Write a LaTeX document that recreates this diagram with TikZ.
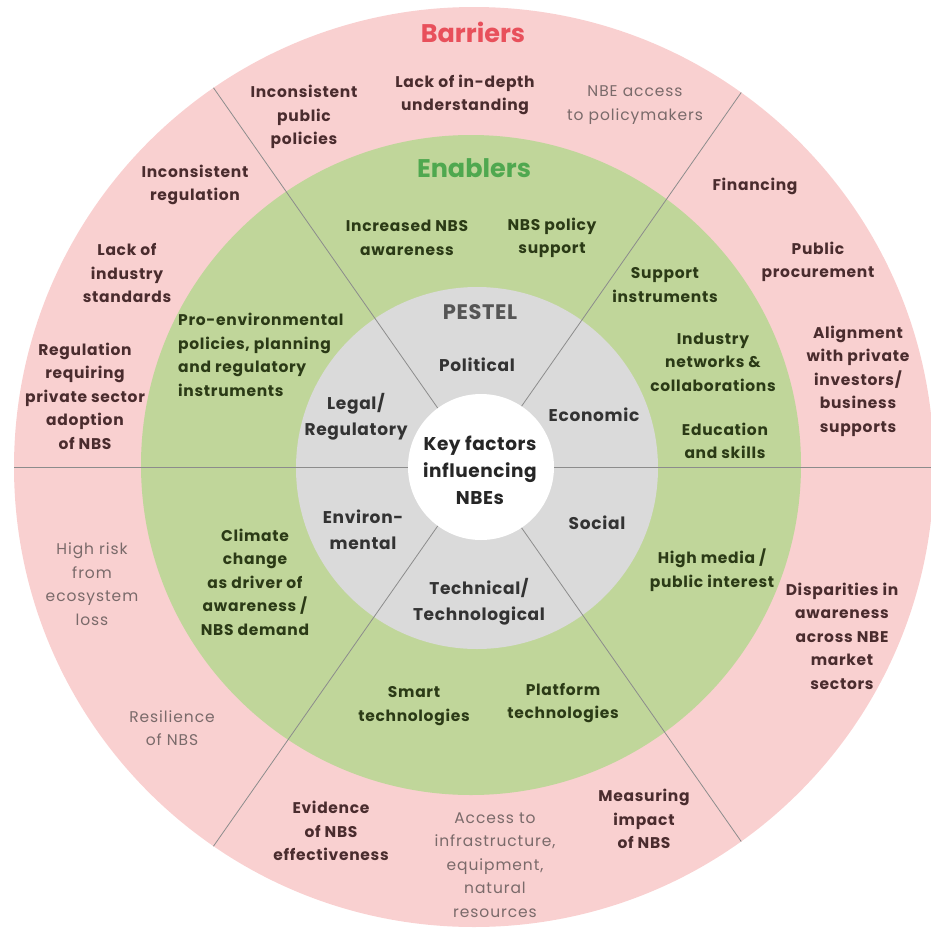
\documentclass[tikz,border=0pt]{standalone}
\usepackage{fontspec}
\setmainfont{Poppins}
\newfontfamily\pmed{Poppins}[LetterSpace=4.5]
\newfontfamily\plight{Poppins}[LetterSpace=6]
\newfontfamily\ppes{Poppins}[LetterSpace=4]
\newfontfamily\psemi{Poppins}[LetterSpace=3]
\newfontfamily\ptitle{Poppins}[LetterSpace=3]
\definecolor{pinkbg}{HTML}{F9D0D0}
\definecolor{greenbg}{HTML}{C0D69A}
\definecolor{graybg}{HTML}{DADADA}
\definecolor{sepline}{HTML}{8C8C8C}
\definecolor{barRed}{HTML}{E8505B}
\definecolor{enGreen}{HTML}{4FA84F}
\definecolor{pestelGray}{HTML}{555555}
\definecolor{barText}{HTML}{4A2C2E}
\definecolor{lightText}{HTML}{7A6A6A}
\definecolor{enText}{HTML}{2B3A16}
\definecolor{pText}{HTML}{333333}
\begin{document}
\begin{tikzpicture}[x=1pt,y=-1pt,
  btxt/.style={font=\pmed\bfseries\fontsize{15.5}{23.5}\selectfont, text=barText, align=center, inner sep=0pt},
  ltxt/.style={font=\plight\fontsize{15.5}{23.5}\selectfont, text=lightText, align=center, inner sep=0pt},
  etxt/.style={font=\pmed\bfseries\fontsize{15.5}{23.5}\selectfont, text=enText, align=center, inner sep=0pt},
  ptxt/.style={font=\ppes\bfseries\fontsize{17}{26}\selectfont, text=pText, align=center, inner sep=0pt},
  ctxt/.style={font=\psemi\bfseries\fontsize{18.5}{27}\selectfont, text=black!85, align=center, inner sep=0pt},
  title/.style={font=\bfseries\fontsize{25.5}{28}\selectfont, inner sep=0pt},
  sep/.style={draw=sepline, line width=0.8pt}]
\useasboundingbox (0,0) rectangle (930,930);
% rings
\fill[pinkbg] (474,467) circle (460);
\fill[greenbg] (471,465) circle (330);
\fill[graybg] (477,468) circle (181);
% separators
\coordinate (ctr) at (479,467);
\begin{scope}
\clip (474,467) circle (460);
\foreach \a in {0,55,125,180,235,305}
  \draw[sep] (ctr) -- ++(\a:700);
\end{scope}
\fill[white] (481,467) circle (73);
% titles
\node[title, text=barRed] (tBar) at (473,32) {Barriers};
\node[title, text=enGreen] (tEn) at (474,168) {Enablers};
\node[title, text=pestelGray, font=\ptitle\bfseries\fontsize{21}{25}\selectfont] (tPes) at (480,312) {PESTEL};
% centre
\node[ctxt] (key) at (480,470) {Key factors\\influencing\\NBEs};
% PESTEL labels
\node[ptxt] (pPol) at (477,365) {Political};
\node[ptxt] (pEco) at (594,415) {Economic};
\node[ptxt] (pLeg) at (356,417) {Legal/\\Regulatory};
\node[ptxt] (pEnv) at (363,530) {Environ-\\mental};
\node[ptxt] (pSoc) at (597,523) {Social};
\node[ptxt] (pTec) at (479,602) {Technical/\\Technological};
% enablers
\node[etxt] (e1) at (407,238) {Increased NBS\\awareness};
\node[etxt] (e2) at (552,238) {NBS policy\\support};
\node[etxt] (e3) at (665,285) {Support\\instruments};
\node[etxt] (e4) at (713,362) {Industry\\networks \&\\collaborations};
\node[etxt] (e5) at (725,441) {Education\\and skills};
\node[etxt] (e6) at (712,570) {High media /\\public interest};
\node[etxt] (e7) at (563,703) {Platform\\technologies};
\node[etxt] (e8) at (414,706) {Smart\\technologies};
\node[etxt] (e9) at (255,582) {Climate\\change\\as driver of\\awareness /\\NBS demand};
\node[etxt, align=left, anchor=west] (e10) at (178,355) {Pro-environmental\\policies, planning\\and regulatory\\instruments};
% barriers
\node[btxt] (b1) at (304,117) {Inconsistent\\public\\policies};
\node[btxt] (b2) at (465,95) {Lack of in-depth\\understanding};
\node[ltxt] (b3) at (635,105) {NBE access\\to policymakers};
\node[btxt] (b4) at (195,185) {Inconsistent\\regulation};
\node[btxt] (b5) at (127,273) {Lack of\\industry\\standards};
\node[btxt] (b6) at (85,396) {Regulation\\requiring\\private sector\\adoption\\of NBS};
\node[btxt] (b7) at (755,186) {Financing};
\node[btxt] (b8) at (818,262) {Public\\procurement};
\node[btxt] (b9) at (858,381) {Alignment\\with private\\investors/\\business\\supports};
\node[btxt] (b10) at (842,636) {Disparities in\\awareness\\across NBE\\market\\sectors};
\node[btxt] (b11) at (644,819) {Measuring\\impact\\of NBS};
\node[ltxt] (b12) at (495,865) {Access to\\infrastructure,\\equipment,\\natural\\resources};
\node[btxt] (b13) at (331,831) {Evidence\\of NBS\\effectiveness};
\node[ltxt] (b14) at (172,728) {Resilience\\of NBS};
\node[ltxt] (b15) at (92,584) {High risk\\from\\ecosystem\\loss};
\end{tikzpicture}
\end{document}
